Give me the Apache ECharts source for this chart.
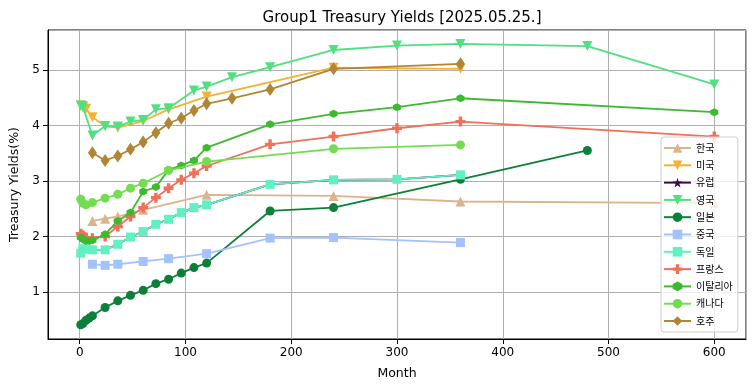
<!DOCTYPE html>
<html>
<head>
<meta charset="utf-8">
<script src="https://cdn.jsdelivr.net/npm/echarts@6/dist/echarts.min.js"></script>
<style>
html,body{margin:0;padding:0;background:#fff;}
#c{width:755px;height:391px;}
</style>
</head>
<body>
<div id="c"></div>
<script>
// ---- data (months, yields %) ----
const seriesNames = ['한국','미국','유럽','영국','일본','중국','독일','프랑스','이탈리아','캐나다','호주'];

const korMonths = [12, 24, 36, 60, 120, 240, 360, 600];
const korVals   = [2.28, 2.32, 2.36, 2.48, 2.75, 2.73, 2.63, 2.60];

const usMonths = [1, 3, 6, 12, 24, 36, 60, 84, 120, 240, 360];
const usVals   = [4.36, 4.35, 4.30, 4.15, 3.99, 3.96, 4.08, 4.29, 4.52, 5.04, 5.02];

const euMonths = [1, 3, 6, 12, 24, 36, 48, 60, 72, 84, 96, 108, 120, 180, 240, 300, 360];
const euVals   = [1.70, 1.78, 1.77, 1.76, 1.76, 1.86, 1.99, 2.09, 2.22, 2.31, 2.43, 2.52, 2.57, 2.94, 3.02, 3.03, 3.11];

const ukMonths = [1, 3, 12, 24, 36, 48, 60, 72, 84, 108, 120, 144, 180, 240, 300, 360, 480, 600];
const ukVals   = [4.36, 4.33, 3.82, 3.99, 3.98, 4.07, 4.10, 4.29, 4.31, 4.63, 4.70, 4.87, 5.05, 5.36, 5.44, 5.47, 5.43, 4.74];

const jpMonths = [1, 3, 6, 9, 12, 24, 36, 48, 60, 72, 84, 96, 108, 120, 180, 240, 360, 480];
const jpVals   = [0.41, 0.43, 0.49, 0.53, 0.57, 0.72, 0.84, 0.94, 1.03, 1.15, 1.23, 1.34, 1.44, 1.52, 2.46, 2.52, 3.03, 3.55];

const cnMonths = [12, 24, 36, 60, 84, 120, 180, 240, 360];
const cnVals   = [1.50, 1.48, 1.50, 1.55, 1.60, 1.69, 1.97, 1.98, 1.89];

const deMonths = [1, 3, 6, 12, 24, 36, 48, 60, 72, 84, 96, 108, 120, 180, 240, 300, 360];
const deVals   = [1.70, 1.78, 1.77, 1.76, 1.76, 1.86, 1.99, 2.09, 2.22, 2.31, 2.43, 2.52, 2.57, 2.94, 3.02, 3.03, 3.11];

const frMonths = [1, 3, 6, 12, 24, 36, 48, 60, 72, 84, 96, 108, 120, 180, 240, 300, 360, 600];
const frVals   = [2.05, 2.02, 1.98, 1.97, 2.00, 2.18, 2.36, 2.52, 2.70, 2.87, 3.02, 3.14, 3.27, 3.66, 3.80, 3.95, 4.07, 3.80];

const itMonths = [1, 3, 6, 9, 12, 24, 36, 48, 60, 72, 84, 96, 108, 120, 180, 240, 300, 360, 600];
const itVals   = [1.98, 1.95, 1.92, 1.92, 1.93, 2.04, 2.28, 2.43, 2.81, 2.89, 3.20, 3.28, 3.37, 3.60, 4.02, 4.21, 4.33, 4.49, 4.24];

const caMonths = [1, 3, 6, 12, 24, 36, 48, 60, 84, 120, 240, 360];
const caVals   = [2.67, 2.60, 2.57, 2.61, 2.69, 2.76, 2.87, 2.96, 3.19, 3.35, 3.58, 3.65];

const auMonths = [12, 24, 36, 48, 60, 72, 84, 96, 108, 120, 144, 180, 240, 360];
const auVals   = [3.51, 3.37, 3.45, 3.57, 3.70, 3.87, 4.04, 4.13, 4.27, 4.39, 4.49, 4.65, 5.02, 5.11];

const titleText = 'Group1 Treasury Yields [2025.05.25.]';
const xName = 'Month';
const yName = 'Treasury Yields(%)';

// ---- styling ----
const SYM = {
  tri: 'triangle',
  down: 'path://M0,0 L10,0 L5,10 Z',
  star: 'path://M5,0 L6.18,3.62 L10,3.62 L6.9,5.86 L8.09,9.5 L5,7.26 L1.91,9.5 L3.1,5.86 L0,3.62 L3.82,3.62 Z',
  plus: 'path://M3.3,0 H6.7 V3.3 H10 V6.7 H6.7 V10 H3.3 V6.7 H0 V3.3 H3.3 Z',
  hex: 'path://M5,0 L9.33,2.5 L9.33,7.5 L5,10 L0.67,7.5 L0.67,2.5 Z',
  circle: 'circle',
  diamond: 'diamond'
};

const defs = [
  {m: korMonths, v: korVals, c: '#dcb48c', s: SYM.tri, sz: 10},
  {m: usMonths,  v: usVals,  c: '#f4b133', s: SYM.down, sz: 10},
  {m: euMonths,  v: euVals,  c: '#3b0a45', s: SYM.star, sz: 8},
  {m: ukMonths,  v: ukVals,  c: '#4fe080', s: SYM.down, sz: 10},
  {m: jpMonths,  v: jpVals,  c: '#0c8038', s: SYM.circle, sz: 9},
  {m: cnMonths,  v: cnVals,  c: '#a3c2ff', s: 'rect', sz: 9},
  {m: deMonths,  v: deVals,  c: '#62efc2', s: 'rect', sz: 9},
  {m: frMonths,  v: frVals,  c: '#f0705a', s: SYM.plus, sz: 10},
  {m: itMonths,  v: itVals,  c: '#3dba30', s: SYM.hex, sz: 8},
  {m: caMonths,  v: caVals,  c: '#72dd4e', s: SYM.circle, sz: 9},
  {m: auMonths,  v: auVals,  c: '#b08534', s: SYM.diamond, sz: [9, 13]}
];

const series = defs.map((d, i) => ({
  name: seriesNames[i],
  type: 'line',
  data: d.m.map((mm, k) => [mm, d.v[k]]),
  symbol: d.s,
  symbolSize: d.sz,
  showAllSymbol: true,
  lineStyle: {width: 1.8, color: d.c},
  itemStyle: {color: d.c, borderWidth: 0},
  emphasis: {disabled: true},
  z: 2 + i * 0.01
}));

const chart = echarts.init(document.getElementById('c'), null, {renderer: 'canvas'});
chart.setOption({
  animation: false,
  backgroundColor: '#fff',
  textStyle: {fontFamily: 'DejaVu Sans'},
  title: {
    text: titleText,
    left: 397,
    textAlign: 'center',
    top: 6,
    textStyle: {fontFamily: 'DejaVu Sans', fontSize: 15, fontWeight: 'normal', color: '#000'}
  },
  grid: {
    left: 48, right: 9, top: 30, bottom: 52,
    show: true, borderColor: '#000', borderWidth: 1, backgroundColor: 'transparent'
  },
  legend: {
    orient: 'vertical',
    left: 661, top: 137,
    padding: [5, 5, 5, 2],
    itemWidth: 27, itemHeight: 12, itemGap: 5.3,
    backgroundColor: 'rgba(255,255,255,0.8)',
    borderColor: '#d0d0d0', borderWidth: 1, borderRadius: 3,
    textStyle: {fontFamily: 'Noto Sans CJK KR', fontSize: 10, color: '#000', lineHeight: 12},
    data: seriesNames
  },
  xAxis: {
    type: 'value',
    min: -30, max: 630,
    name: xName, nameLocation: 'middle', nameGap: 28,
    nameTextStyle: {fontFamily: 'DejaVu Sans', fontSize: 12.5, color: '#000'},
    axisLine: {show: true, onZero: false, lineStyle: {color: '#000', width: 1}},
    axisTick: {show: true, length: 5, lineStyle: {color: '#000'}},
    axisLabel: {fontFamily: 'DejaVu Sans', fontSize: 12, color: '#000', margin: 8, showMinLabel: false, showMaxLabel: false},
    splitLine: {show: true, lineStyle: {color: '#b0b0b0', width: 1}}
  },
  yAxis: {
    type: 'value',
    min: 0.153, max: 5.72,
    name: yName, nameLocation: 'middle', nameGap: 24, nameRotate: 90,
    nameTextStyle: {fontFamily: 'DejaVu Sans', fontSize: 12.5, color: '#000'},
    axisLine: {show: true, onZero: false, lineStyle: {color: '#000', width: 1}},
    axisTick: {show: true, length: 5, lineStyle: {color: '#000'}},
    axisLabel: {fontFamily: 'DejaVu Sans', fontSize: 12, color: '#000', margin: 8, showMinLabel: false, showMaxLabel: false},
    splitLine: {show: true, lineStyle: {color: '#b0b0b0', width: 1}}
  },
  series: series
});
</script>
</body>
</html>
